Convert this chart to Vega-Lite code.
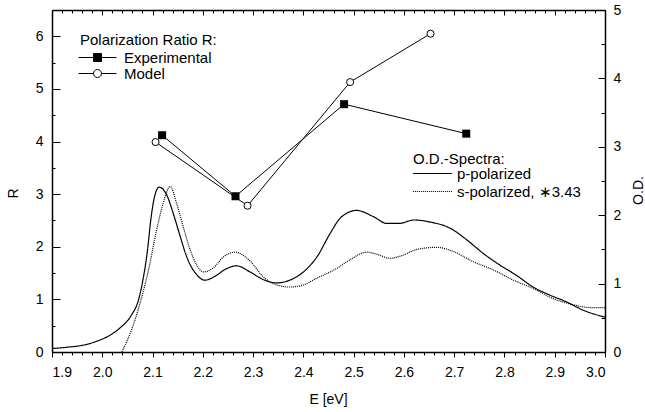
{
  "$schema": "https://vega.github.io/schema/vega-lite/v6.json",
  "width": 553,
  "height": 342,
  "autosize": {"type": "none"},
  "padding": {"left": 52, "top": 10, "right": 40, "bottom": 60},
  "background": "white",
  "config": {
    "font": "Liberation Sans",
    "view": {"stroke": null},
    "axis": {
      "grid": false,
      "domainColor": "black",
      "domainWidth": 1.5,
      "tickColor": "black",
      "tickWidth": 1,
      "labelColor": "black",
      "labelFont": "Liberation Sans",
      "labelFontSize": 14,
      "titleColor": "black",
      "titleFont": "Liberation Sans",
      "titleFontSize": 14,
      "titleFontWeight": "normal"
    },
    "legend": {
      "labelFont": "Liberation Sans",
      "labelFontSize": 15,
      "labelColor": "black",
      "titleFont": "Liberation Sans",
      "titleFontSize": 15,
      "titleFontWeight": "normal",
      "titleColor": "black",
      "padding": 0
    }
  },
  "datasets": {
    "ratio": [
      {"series": "Experimental", "E": 2.119, "R": 4.12},
      {"series": "Experimental", "E": 2.265, "R": 2.96},
      {"series": "Experimental", "E": 2.481, "R": 4.71},
      {"series": "Experimental", "E": 2.724, "R": 4.15},
      {"series": "Model", "E": 2.106, "R": 3.99},
      {"series": "Model", "E": 2.289, "R": 2.78},
      {"series": "Model", "E": 2.493, "R": 5.13},
      {"series": "Model", "E": 2.653, "R": 6.05}
    ],
    "spectra": [
      {"pol": "p-polarized", "E": 1.900, "OD": 0.05},
      {"pol": "p-polarized", "E": 1.930, "OD": 0.07},
      {"pol": "p-polarized", "E": 1.962, "OD": 0.10},
      {"pol": "p-polarized", "E": 1.990, "OD": 0.16},
      {"pol": "p-polarized", "E": 2.009, "OD": 0.22},
      {"pol": "p-polarized", "E": 2.035, "OD": 0.35},
      {"pol": "p-polarized", "E": 2.058, "OD": 0.54},
      {"pol": "p-polarized", "E": 2.072, "OD": 0.76},
      {"pol": "p-polarized", "E": 2.082, "OD": 1.10},
      {"pol": "p-polarized", "E": 2.090, "OD": 1.49},
      {"pol": "p-polarized", "E": 2.096, "OD": 1.90},
      {"pol": "p-polarized", "E": 2.103, "OD": 2.24},
      {"pol": "p-polarized", "E": 2.113, "OD": 2.41},
      {"pol": "p-polarized", "E": 2.128, "OD": 2.30},
      {"pol": "p-polarized", "E": 2.141, "OD": 2.03},
      {"pol": "p-polarized", "E": 2.155, "OD": 1.69},
      {"pol": "p-polarized", "E": 2.168, "OD": 1.39},
      {"pol": "p-polarized", "E": 2.188, "OD": 1.13},
      {"pol": "p-polarized", "E": 2.204, "OD": 1.05},
      {"pol": "p-polarized", "E": 2.225, "OD": 1.11},
      {"pol": "p-polarized", "E": 2.245, "OD": 1.21},
      {"pol": "p-polarized", "E": 2.267, "OD": 1.26},
      {"pol": "p-polarized", "E": 2.294, "OD": 1.17},
      {"pol": "p-polarized", "E": 2.320, "OD": 1.06},
      {"pol": "p-polarized", "E": 2.347, "OD": 1.01},
      {"pol": "p-polarized", "E": 2.373, "OD": 1.05},
      {"pol": "p-polarized", "E": 2.400, "OD": 1.17},
      {"pol": "p-polarized", "E": 2.427, "OD": 1.39},
      {"pol": "p-polarized", "E": 2.453, "OD": 1.73},
      {"pol": "p-polarized", "E": 2.475, "OD": 1.97},
      {"pol": "p-polarized", "E": 2.506, "OD": 2.07},
      {"pol": "p-polarized", "E": 2.539, "OD": 1.98},
      {"pol": "p-polarized", "E": 2.566, "OD": 1.88},
      {"pol": "p-polarized", "E": 2.590, "OD": 1.88},
      {"pol": "p-polarized", "E": 2.620, "OD": 1.93},
      {"pol": "p-polarized", "E": 2.652, "OD": 1.90},
      {"pol": "p-polarized", "E": 2.692, "OD": 1.81},
      {"pol": "p-polarized", "E": 2.725, "OD": 1.64},
      {"pol": "p-polarized", "E": 2.758, "OD": 1.44},
      {"pol": "p-polarized", "E": 2.791, "OD": 1.27},
      {"pol": "p-polarized", "E": 2.824, "OD": 1.12},
      {"pol": "p-polarized", "E": 2.857, "OD": 0.95},
      {"pol": "p-polarized", "E": 2.891, "OD": 0.83},
      {"pol": "p-polarized", "E": 2.924, "OD": 0.73},
      {"pol": "p-polarized", "E": 2.957, "OD": 0.61},
      {"pol": "p-polarized", "E": 3.000, "OD": 0.51},
      {"pol": "s-polarized, ∗3.43", "E": 2.039, "OD": 0.00},
      {"pol": "s-polarized, ∗3.43", "E": 2.058, "OD": 0.32},
      {"pol": "s-polarized, ∗3.43", "E": 2.075, "OD": 0.71},
      {"pol": "s-polarized, ∗3.43", "E": 2.092, "OD": 1.20},
      {"pol": "s-polarized, ∗3.43", "E": 2.108, "OD": 1.78},
      {"pol": "s-polarized, ∗3.43", "E": 2.121, "OD": 2.17},
      {"pol": "s-polarized, ∗3.43", "E": 2.135, "OD": 2.42},
      {"pol": "s-polarized, ∗3.43", "E": 2.148, "OD": 2.17},
      {"pol": "s-polarized, ∗3.43", "E": 2.161, "OD": 1.83},
      {"pol": "s-polarized, ∗3.43", "E": 2.175, "OD": 1.49},
      {"pol": "s-polarized, ∗3.43", "E": 2.188, "OD": 1.27},
      {"pol": "s-polarized, ∗3.43", "E": 2.201, "OD": 1.17},
      {"pol": "s-polarized, ∗3.43", "E": 2.221, "OD": 1.23},
      {"pol": "s-polarized, ∗3.43", "E": 2.241, "OD": 1.39},
      {"pol": "s-polarized, ∗3.43", "E": 2.264, "OD": 1.46},
      {"pol": "s-polarized, ∗3.43", "E": 2.294, "OD": 1.33},
      {"pol": "s-polarized, ∗3.43", "E": 2.320, "OD": 1.10},
      {"pol": "s-polarized, ∗3.43", "E": 2.347, "OD": 0.98},
      {"pol": "s-polarized, ∗3.43", "E": 2.373, "OD": 0.95},
      {"pol": "s-polarized, ∗3.43", "E": 2.400, "OD": 0.98},
      {"pol": "s-polarized, ∗3.43", "E": 2.427, "OD": 1.08},
      {"pol": "s-polarized, ∗3.43", "E": 2.466, "OD": 1.22},
      {"pol": "s-polarized, ∗3.43", "E": 2.493, "OD": 1.35},
      {"pol": "s-polarized, ∗3.43", "E": 2.526, "OD": 1.46},
      {"pol": "s-polarized, ∗3.43", "E": 2.546, "OD": 1.43},
      {"pol": "s-polarized, ∗3.43", "E": 2.572, "OD": 1.37},
      {"pol": "s-polarized, ∗3.43", "E": 2.596, "OD": 1.41},
      {"pol": "s-polarized, ∗3.43", "E": 2.626, "OD": 1.50},
      {"pol": "s-polarized, ∗3.43", "E": 2.665, "OD": 1.53},
      {"pol": "s-polarized, ∗3.43", "E": 2.698, "OD": 1.47},
      {"pol": "s-polarized, ∗3.43", "E": 2.738, "OD": 1.32},
      {"pol": "s-polarized, ∗3.43", "E": 2.778, "OD": 1.20},
      {"pol": "s-polarized, ∗3.43", "E": 2.818, "OD": 1.05},
      {"pol": "s-polarized, ∗3.43", "E": 2.857, "OD": 0.93},
      {"pol": "s-polarized, ∗3.43", "E": 2.897, "OD": 0.78},
      {"pol": "s-polarized, ∗3.43", "E": 2.937, "OD": 0.69},
      {"pol": "s-polarized, ∗3.43", "E": 2.970, "OD": 0.65},
      {"pol": "s-polarized, ∗3.43", "E": 3.000, "OD": 0.65}
    ]
  },
  "layer": [
    {
      "data": {"name": "ratio"},
      "layer": [
        {
          "mark": {"type": "line", "color": "black", "strokeWidth": 1},
          "encoding": {
            "x": {"field": "E", "type": "quantitative", "scale": {"domain": [1.9, 3.0], "nice": false, "zero": false},
              "axis": {"orient": "bottom", "values": [1.9, 2.0, 2.1, 2.2, 2.3, 2.4, 2.5, 2.6, 2.7, 2.8, 2.9, 3.0], "format": ".1f", "tickSize": 5, "labelPadding": 8, "title": "E [eV]", "titleX": 276, "titleY": 47, "titleBaseline": "middle", "titleAlign": "center"}},
            "y": {"field": "R", "type": "quantitative", "scale": {"domain": [0, 6.5], "nice": false, "zero": false},
              "axis": {"orient": "left", "values": [0, 1, 2, 3, 4, 5, 6], "tickSize": -8, "labelPadding": 17, "title": "R", "titleAngle": -90, "titleX": -39, "titleY": 183, "titleBaseline": "middle", "titleAlign": "center"}},
            "detail": {"field": "series"}
          }
        },
        {
          "transform": [{"filter": "datum.series === 'Experimental'"}],
          "mark": {"type": "point", "shape": "square", "filled": true, "opacity": 1, "size": 64},
          "encoding": {
            "x": {"field": "E", "type": "quantitative", "scale": {"domain": [1.9, 3.0], "nice": false, "zero": false},
              "axis": {"orient": "bottom", "values": [1.92,1.94,1.96,1.98,2.02,2.04,2.06,2.08,2.12,2.14,2.16,2.18,2.22,2.24,2.26,2.28,2.32,2.34,2.36,2.38,2.42,2.44,2.46,2.48,2.52,2.54,2.56,2.58,2.62,2.64,2.66,2.68,2.72,2.74,2.76,2.78,2.82,2.84,2.86,2.88,2.92,2.94,2.96,2.98], "tickSize": 3, "labels": false, "domain": false, "title": null}},
            "y": {"field": "R", "type": "quantitative", "scale": {"domain": [0, 6.5], "nice": false, "zero": false},
              "axis": {"orient": "left", "values": [0.5, 1.5, 2.5, 3.5, 4.5, 5.5], "tickSize": -3, "labels": false, "domain": false, "title": null}},
            "fill": {"field": "series", "type": "nominal", "scale": {"domain": ["Experimental"], "range": ["black"]},
              "legend": {"title": "Polarization Ratio R:", "orient": "none", "legendX": 28, "legendY": 23, "symbolType": "M-4.75,0H-1M1,0H4.75M-1,-1H1V1H-1Z", "symbolSize": 64, "symbolStrokeColor": "black", "symbolStrokeWidth": 1, "symbolOffset": 10, "labelOffset": 19, "titlePadding": 2}}
          }
        },
        {
          "transform": [{"filter": "datum.series === 'Model'"}],
          "mark": {"type": "point", "shape": "circle", "filled": true, "fill": "white", "opacity": 1, "size": 50, "strokeWidth": 1},
          "encoding": {
            "x": {"field": "E", "type": "quantitative", "scale": {"domain": [1.9, 3.0], "nice": false, "zero": false}, "axis": null},
            "y": {"field": "R", "type": "quantitative", "scale": {"domain": [0, 6.5], "nice": false, "zero": false}, "axis": null},
            "stroke": {"field": "series", "type": "nominal", "scale": {"domain": ["Model"], "range": ["black"]},
              "legend": {"title": null, "orient": "none", "legendX": 28, "legendY": 56, "symbolType": "M-4.75,0H-1M1,0A1,1 0 1,1 -1,0A1,1 0 1,1 1,0ZM1,0H4.75", "symbolSize": 64, "symbolFillColor": "white", "symbolStrokeColor": "black", "symbolStrokeWidth": 1, "symbolOffset": 10, "labelOffset": 19}}
          }
        }
      ],
      "resolve": {"axis": {"x": "independent", "y": "independent"}}
    },
    {
      "data": {"name": "spectra"},
      "layer": [
        {
          "transform": [{"filter": "datum.pol === 'p-polarized'"}],
          "mark": {"type": "line", "color": "black", "strokeWidth": 1.2, "interpolate": "monotone"},
          "encoding": {
            "x": {"field": "E", "type": "quantitative", "scale": {"domain": [1.9, 3.0], "nice": false, "zero": false},
              "axis": {"orient": "top", "values": [1.9, 2.0, 2.1, 2.2, 2.3, 2.4, 2.5, 2.6, 2.7, 2.8, 2.9, 3.0], "tickSize": -5, "labels": false, "title": null}},
            "y": {"field": "OD", "type": "quantitative", "scale": {"domain": [0, 5], "nice": false, "zero": false},
              "axis": {"orient": "right", "values": [0, 1, 2, 3, 4, 5], "tickSize": -7, "labelPadding": 15, "title": "O.D.", "titleAngle": -90, "titleX": 33, "titleY": 180, "titleBaseline": "middle", "titleAlign": "center"}},
            "strokeDash": {"field": "pol", "type": "nominal", "scale": {"domain": ["p-polarized", "s-polarized, ∗3.43"], "range": [[1, 0], [1, 1]]},
              "legend": {"title": "O.D.-Spectra:", "orient": "none", "legendX": 361, "legendY": 142, "symbolType": "M-4.9,0H4.9", "symbolSize": 64, "symbolStrokeColor": "black", "symbolStrokeWidth": 1.2, "symbolOffset": 12, "labelOffset": 17, "titlePadding": -1, "rowPadding": 2}}
          }
        },
        {
          "transform": [{"filter": "datum.pol !== 'p-polarized'"}],
          "mark": {"type": "line", "color": "black", "strokeWidth": 1.2, "interpolate": "monotone"},
          "encoding": {
            "x": {"field": "E", "type": "quantitative", "scale": {"domain": [1.9, 3.0], "nice": false, "zero": false},
              "axis": {"orient": "top", "values": [1.92,1.94,1.96,1.98,2.02,2.04,2.06,2.08,2.12,2.14,2.16,2.18,2.22,2.24,2.26,2.28,2.32,2.34,2.36,2.38,2.42,2.44,2.46,2.48,2.52,2.54,2.56,2.58,2.62,2.64,2.66,2.68,2.72,2.74,2.76,2.78,2.82,2.84,2.86,2.88,2.92,2.94,2.96,2.98], "tickSize": -3, "labels": false, "domain": false, "title": null}},
            "y": {"field": "OD", "type": "quantitative", "scale": {"domain": [0, 5], "nice": false, "zero": false},
              "axis": {"orient": "right", "values": [0.5, 1.5, 2.5, 3.5, 4.5], "tickSize": -4, "labels": false, "domain": false, "title": null}},
            "strokeDash": {"field": "pol", "type": "nominal", "scale": {"domain": ["p-polarized", "s-polarized, ∗3.43"], "range": [[1, 0], [1, 1]]}}
          }
        }
      ],
      "resolve": {"axis": {"x": "independent", "y": "independent"}}
    }
  ],
  "resolve": {"scale": {"y": "independent"}, "axis": {"x": "independent", "y": "independent"}}
}
